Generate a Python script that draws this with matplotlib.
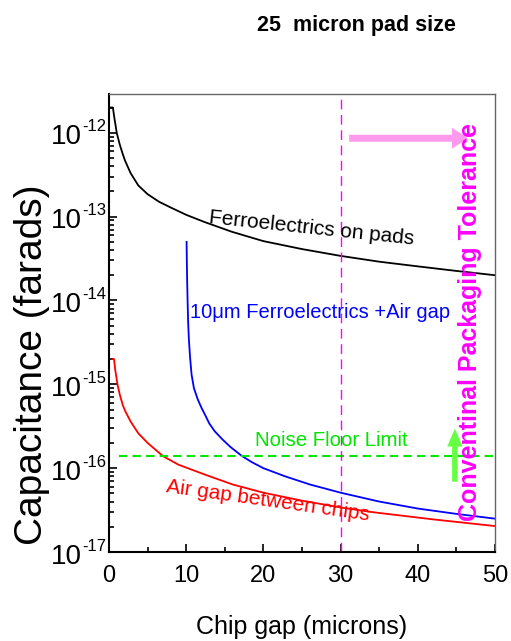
import numpy as np
import matplotlib
matplotlib.use('Agg')
import matplotlib.pyplot as plt
import matplotlib.ticker as mticker
from matplotlib.transforms import blended_transform_factory, offset_copy

plt.rcParams['font.family'] = ['Liberation Sans', 'DejaVu Sans']

# curves (gap in microns, capacitance in farads)
pads_x = [0.1, 0.5, 0.7, 1.0, 1.4, 1.8, 2.1, 2.8, 3.8, 5.0, 6.5, 8.1, 10.0, 12.4,
          15.9, 20.0, 25.0, 30.0, 35.0, 40.0, 45.0, 50.0]
pads_c = [2e-12, 2e-12, 1.5e-12, 1.0e-12, 7.2e-13, 5.5e-13, 4.6e-13, 3.3e-13, 2.35e-13,
          1.85e-13, 1.5e-13, 1.27e-13, 1.05e-13, 8.6e-14, 6.6e-14, 5.1e-14, 4.1e-14,
          3.4e-14, 2.9e-14, 2.55e-14, 2.25e-14, 2.0e-14]

film_x = [10.05, 10.08, 10.12, 10.18, 10.25, 10.35, 10.5, 10.7, 11.0, 11.5, 12.0, 12.4,
          13.0, 13.7, 14.7, 15.7, 17.2, 18.5, 20.0, 22.8, 26.0, 30.0, 35.0, 40.0, 45.0, 50.0]
film_c = [5e-14, 3e-14, 1.8e-14, 1e-14, 5.5e-15, 3.4e-15, 2.1e-15, 1.3e-15, 9e-16,
          6.6e-16, 5.2e-16, 4.4e-16, 3.4e-16, 2.75e-16, 2.2e-16, 1.8e-16, 1.4e-16,
          1.18e-16, 1.0e-16, 8e-17, 6.4e-17, 5.1e-17, 4.0e-17, 3.3e-17, 2.85e-17, 2.5e-17]

air_x = [0.45, 0.65, 0.8, 1.1, 1.4, 1.8, 2.1, 2.8, 3.8, 5.0, 7.0, 9.0, 12.4, 16.0,
         20.0, 25.0, 30.0, 34.0, 42.0, 50.0]
air_c = [2e-15, 2e-15, 1.5e-15, 1e-15, 7.5e-16, 5.6e-16, 4.8e-16, 3.6e-16, 2.6e-16,
         2.0e-16, 1.39e-16, 1.1e-16, 8.4e-17, 6.4e-17, 5.1e-17, 4.1e-17, 3.4e-17,
         3.0e-17, 2.45e-17, 2.04e-17]

noise_floor = 1.39e-16
noise_x = [1.3, 50]
tolerance_gap = 30
y_exponents = [-17, -16, -15, -14, -13, -12]

fig = plt.figure(figsize=(5.11, 6.41), dpi=100)
ax = fig.add_axes([0.2133, 0.1388, 0.7554, 0.7146])

ax.plot(pads_x, pads_c, color='black', lw=1.3)
ax.plot(film_x, film_c, color='#0000ff', lw=1.3)
ax.plot(air_x, air_c, color='#ff0000', lw=1.3)
ax.plot(noise_x, [noise_floor, noise_floor], color='#00e600', lw=1.5, ls=(0, (4, 2.5)))
ax.axvline(tolerance_gap, color='#ff00ff', lw=1.0, ls=(0, (7, 4)))

# arrows
ax.annotate('', xy=(46.5, 8.6e-13), xytext=(31.1, 8.6e-13),
            arrowprops=dict(arrowstyle='simple,head_length=1.15,head_width=1.5,tail_width=0.5',
                            color='#ff99ee', lw=0, shrinkA=0, shrinkB=0))
ax.annotate('', xy=(44.8, 2.97e-16), xytext=(44.8, 6.9e-17),
            arrowprops=dict(arrowstyle='simple,head_length=1.3,head_width=1.1,tail_width=0.4',
                            color='#66ff44', lw=0, shrinkA=0, shrinkB=0))

ax.set_yscale('log')
ax.set_xlim(0, 50)
ax.set_ylim(1e-17, 2.9e-12)

ax.xaxis.set_major_locator(mticker.MultipleLocator(10))
ax.xaxis.set_minor_locator(mticker.MultipleLocator(5))
ax.yaxis.set_major_locator(mticker.FixedLocator([10.0 ** e for e in y_exponents]))
ax.yaxis.set_minor_locator(mticker.LogLocator(base=10, subs=np.arange(2, 10), numticks=20))
ax.yaxis.set_minor_formatter(mticker.NullFormatter())
ax.yaxis.set_major_formatter(mticker.NullFormatter())

ax.tick_params(which='both', direction='in', top=False, right=False, width=1.2)
ax.tick_params(which='major', length=6)
ax.tick_params(which='minor', length=3.3)
ax.tick_params(axis='x', labelsize=17, pad=9)

for s in ['left', 'bottom']:
    ax.spines[s].set_linewidth(1.5)
for s in ['top', 'right']:
    ax.spines[s].set_color('#666666')
    ax.spines[s].set_linewidth(1.0)

# y tick labels: "10" with a small raised exponent
ytrans = blended_transform_factory(ax.transAxes, ax.transData)
for e in y_exponents:
    base_t = offset_copy(ytrans, fig=fig, x=-27, y=-11.5, units='dots')
    exp_t = offset_copy(ytrans, fig=fig, x=-27, y=1.5, units='dots')
    ax.text(0, 10.0 ** e, '10', fontsize=20, ha='right', va='baseline', transform=base_t)
    ax.text(0, 10.0 ** e, '-%d' % abs(e), fontsize=12, ha='left', va='baseline',
            transform=exp_t)

# labels on the curves
ax.text(26.2, 6.3e-14, 'Ferroelectrics on pads', fontsize=15, rotation=-6,
        rotation_mode='anchor', ha='center', va='baseline', color='black')
ax.text(10.5, 6.2e-15, '10\u03bcm Ferroelectrics +Air gap', fontsize=14.5,
        ha='left', va='baseline', color='#0000ff')
ax.text(18.9, 1.83e-16, 'Noise Floor Limit', fontsize=14.7, ha='left',
        va='baseline', color='#00e600')
ax.text(20.5, 3.48e-17, 'Air gap between chips', fontsize=15, rotation=-8,
        rotation_mode='anchor', ha='center', va='baseline', color='#ff0000')
ax.text(46.8, 5.5e-15, 'Conventinal Packaging Tolerance', fontsize=18,
        weight='bold', rotation=90, ha='center', va='center', color='#ff00ff')

fig.text(356 / 511, 1 - 25 / 641, '25  micron pad size', fontsize=15.5, weight='bold',
         ha='center', va='center')
fig.text(32 / 511, 1 - 365 / 641, 'Capacitance (farads)', fontsize=28,
         rotation=90, ha='center', va='center')
fig.text(302 / 511, 1 - 634 / 641, 'Chip gap (microns)', fontsize=18,
         ha='center', va='baseline')

plt.savefig('out.png', dpi=100)
plt.close()
